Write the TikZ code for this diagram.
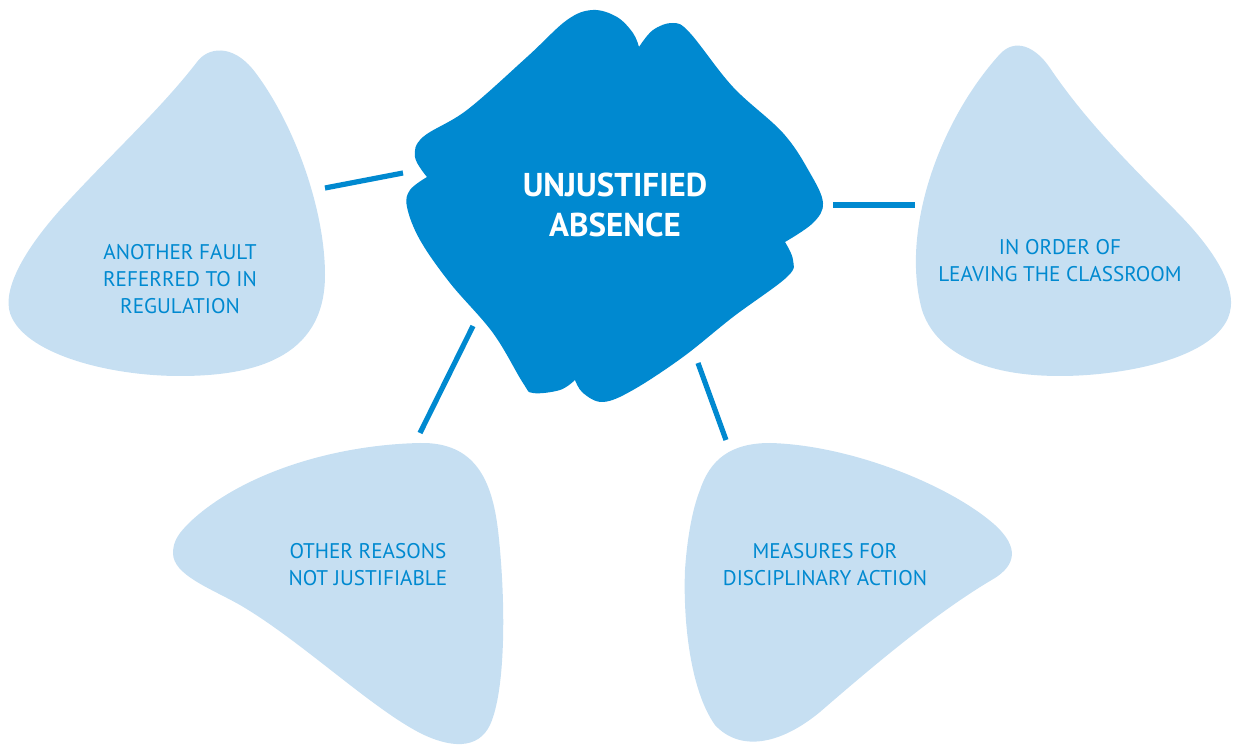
\documentclass[tikz,border=0pt]{standalone}
\usepackage{fontspec}
\setmainfont{PT Sans}
\definecolor{dblue}{RGB}{0,137,208}
\definecolor{lblue}{RGB}{198,223,242}
\begin{document}
\begin{tikzpicture}[x=0.5pt,y=-0.5pt,
  blob/.style={fill=lblue,draw=none},
  conn/.style={draw=dblue,line width=2.6pt},
  lbl/.style={text=dblue,align=center,font=\fontsize{10.6}{13.5}\selectfont,inner sep=0pt},
  clbl/.style={text=white,align=center,font=\fontsize{16.5}{20}\selectfont\bfseries,inner sep=0pt}]
\useasboundingbox (0,0) rectangle (1239,754);
% light blobs
\fill[blob] (197,62) .. controls (207,48) and (232,42) .. (255,72)
  .. controls (295,125) and (325,210) .. (325,275)
  .. controls (325,360) and (250,376) .. (180,376)
  .. controls (110,376) and (30,355) .. (12,318)
  .. controls (0,295) and (20,255) .. (60,210)
  .. controls (110,155) and (160,110) .. (197,62) -- cycle;
\fill[blob] (1000,54) .. controls (1015,38) and (1035,46) .. (1050,68)
  .. controls (1085,120) and (1130,165) .. (1175,210)
  .. controls (1215,250) and (1240,290) .. (1228,318)
  .. controls (1210,360) and (1120,376) .. (1060,376)
  .. controls (980,376) and (935,350) .. (922,310)
  .. controls (900,230) and (940,120) .. (1000,54) -- cycle;
\fill[blob] (190,522) .. controls (240,475) and (330,445) .. (420,443)
  .. controls (475,442) and (492,480) .. (498,530)
  .. controls (506,600) and (506,690) .. (490,725)
  .. controls (478,750) and (450,748) .. (420,733)
  .. controls (370,707) and (300,640) .. (240,605)
  .. controls (210,588) and (173,575) .. (173,553)
  .. controls (173,540) and (180,532) .. (190,522) -- cycle;
\fill[blob] (700,490) .. controls (710,460) and (730,443) .. (770,443)
  .. controls (850,445) and (950,485) .. (995,525)
  .. controls (1020,548) and (1015,565) .. (995,578)
  .. controls (940,610) and (880,660) .. (820,712)
  .. controls (780,745) and (740,752) .. (715,725)
  .. controls (690,690) and (683,620) .. (685,570)
  .. controls (687,540) and (692,510) .. (700,490) -- cycle;
% central blob
\fill[dblue] plot[smooth,tension=0.6] coordinates {(639,47)(653,30)(673,23)(690,33)(733,87)(783,133)(810,173)(823,203)(813,223)(785,242)}
 -- plot[smooth,tension=0.6] coordinates {(785,242)(793,260)(787,277)(733,317)(683,357)(633,390)(603,402)(583,393)(575,380)}
 -- plot[smooth,tension=0.6] coordinates {(575,380)(560,390)(533,393)(523,383)(493,333)(450,283)(420,240)(407,207)(410,190)(427,177)}
 -- plot[smooth,tension=0.6] coordinates {(427,177)(415,157)(423,137)(467,110)(527,57)(567,20)(593,10)(617,17)(633,33)(639,47)} -- cycle;
% texts
\node[clbl] (c) at (615,205) {UNJUSTIFIED\\ABSENCE};
\node[lbl] (a) at (180,279) {ANOTHER FAULT\\REFERRED TO IN\\REGULATION};
\node[lbl] (b) at (1060,261) {IN ORDER OF\\LEAVING THE CLASSROOM};
\node[lbl] (d) at (368,565) {OTHER REASONS\\NOT JUSTIFIABLE};
\node[lbl] (e) at (825,565) {MEASURES FOR\\DISCIPLINARY ACTION};
% connectors
\coordinate (a1) at (325,188); \coordinate (a2) at (403,173);
\coordinate (b1) at (833,205); \coordinate (b2) at (915,205);
\coordinate (d1) at (473,326); \coordinate (d2) at (420,433);
\coordinate (e1) at (698,363); \coordinate (e2) at (726,440);
\draw[conn] (a1) -- (a2);
\draw[conn] (b1) -- (b2);
\draw[conn] (d1) -- (d2);
\draw[conn] (e1) -- (e2);
\end{tikzpicture}
\end{document}
